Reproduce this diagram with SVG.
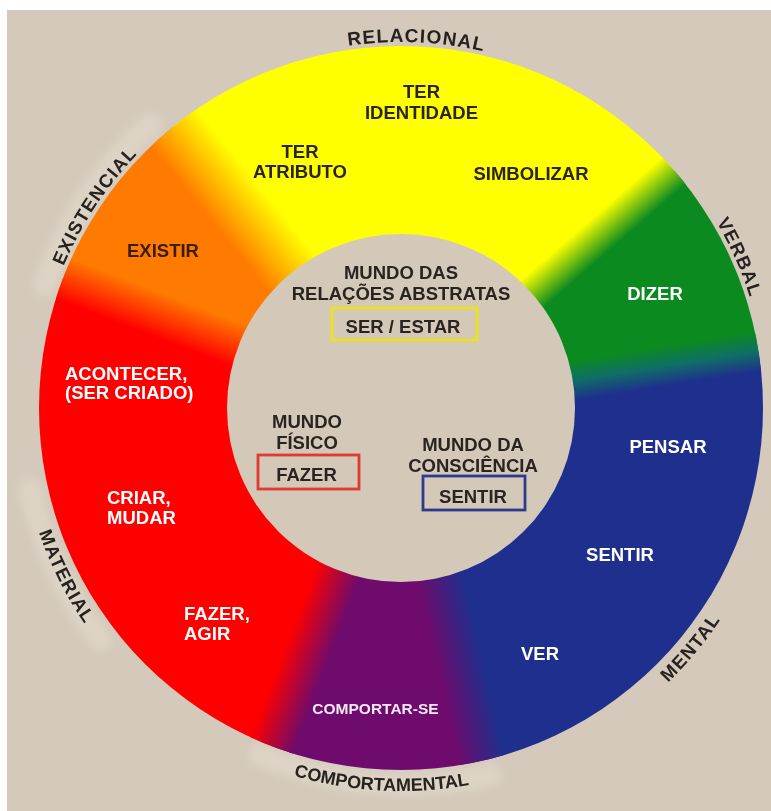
<svg xmlns="http://www.w3.org/2000/svg" width="771" height="811" viewBox="0 0 771 811">
  <style>
    text { font-family: "Liberation Sans", Arial, sans-serif; font-weight: bold; }
    .lbl { font-size: 18.5px; text-anchor: middle; }
    .lft { font-size: 18.5px; text-anchor: start; }
    .dark { fill: #2a2421; }
    .white { fill: #ffffff; }
    .ring-label { font-size: 18.5px; fill: #26221f; letter-spacing: 1.2px; }
    .box { fill: none; stroke-width: 2.8; }
    .patch { fill: none; stroke: #e2dacd; stroke-width: 24; stroke-linecap: round; opacity: 0.6; }
  </style>
  <defs>
    <clipPath id="outerDisc">
      <circle cx="401" cy="408" r="362"/>
    </clipPath>
    <filter id="haze" filterUnits="userSpaceOnUse" x="-60" y="-60" width="900" height="950">
      <feGaussianBlur stdDeviation="4"/>
    </filter>
    <!-- cross-fades between neighbouring sectors (top edge = earlier sector) -->
    <linearGradient id="fadeYG" x1="0" y1="0" x2="0" y2="1">
      <stop offset="0" stop-color="#ffff00"/><stop offset="1" stop-color="#0b8a20"/>
    </linearGradient>
    <linearGradient id="fadeGB" x1="0" y1="0" x2="0" y2="1">
      <stop offset="0" stop-color="#0b8a20"/><stop offset="0.5" stop-color="#0f6e66"/><stop offset="1" stop-color="#1f2f8d"/>
    </linearGradient>
    <linearGradient id="fadeBP" x1="0" y1="0" x2="0" y2="1">
      <stop offset="0" stop-color="#1f2f8d"/><stop offset="1" stop-color="#6e0b6c"/>
    </linearGradient>
    <linearGradient id="fadePR" x1="0" y1="0" x2="0" y2="1">
      <stop offset="0" stop-color="#6e0b6c"/><stop offset="1" stop-color="#ff0000"/>
    </linearGradient>
    <linearGradient id="fadeRO" x1="0" y1="0" x2="0" y2="1">
      <stop offset="0" stop-color="#ff0000"/><stop offset="1" stop-color="#ff7a00"/>
    </linearGradient>
    <linearGradient id="fadeOY" x1="0" y1="0" x2="0" y2="1">
      <stop offset="0" stop-color="#ff7a00"/><stop offset="1" stop-color="#ffff00"/>
    </linearGradient>
    <!-- baselines for the category names around the wheel -->
    <path id="arcRelacional" d="M177.7 118 A366 366 0 0 1 647.8 137.7"/>
    <path id="arcExistencial" d="M37.4 450.1 A366 366 0 0 1 296.4 57.3"/>
    <path id="arcVerbal" d="M561.5 79 A366 366 0 0 1 752.8 508.9"/>
    <path id="arcMental" d="M470.1 784.7 A383 383 0 0 0 784 405.3"/>
    <path id="arcMaterial" d="M28.3 319.9 A383 383 0 0 0 249.5 759.7"/>
    <path id="arcComportamental" d="M139.8 688.1 A383 383 0 0 0 631.5 713.9"/>
  </defs>

  <!-- paper -->
  <rect x="0" y="0" width="771" height="811" fill="#ffffff"/>
  <rect x="7" y="10" width="764" height="801" fill="#d4c9bb"/>

  <!-- lighter strips behind some category names -->
  <g id="label-patches" filter="url(#haze)">
    <path class="patch" d="M45 285 A378 378 0 0 1 150 125"/>
    <path class="patch" d="M30 490 A380 380 0 0 0 100 640"/>
    <path class="patch" d="M260 755 A380 380 0 0 0 490 775"/>
  </g>

  <!-- colour wheel -->
  <g id="wheel" clip-path="url(#outerDisc)">
    <path fill="#ffff00" d="M401 408 L124.1 66.1 A440 440 0 0 1 733.1 119.3 Z"/>
    <path fill="#0b8a20" d="M401 408 L733.1 119.3 A440 440 0 0 1 835.6 339.2 Z"/>
    <path fill="#1f2f8d" d="M401 408 L835.6 339.2 A440 440 0 0 1 500 836.7 Z"/>
    <path fill="#6e0b6c" d="M401 408 L500 836.7 A440 440 0 0 1 243.3 818.8 Z"/>
    <path fill="#ff0000" d="M401 408 L243.3 818.8 A440 440 0 0 1 -9.8 250.3 Z"/>
    <path fill="#ff7a00" d="M401 408 L-9.8 250.3 A440 440 0 0 1 124.1 66.1 Z"/>
    <!-- blended seams along each sector border -->
    <rect x="551" y="390" width="230" height="36" fill="url(#fadeYG)" transform="rotate(-41 401 408)"/>
    <rect x="551" y="388" width="230" height="40" fill="url(#fadeGB)" transform="rotate(-9 401 408)"/>
    <rect x="551" y="385" width="230" height="46" fill="url(#fadeBP)" transform="rotate(77 401 408)"/>
    <rect x="551" y="385" width="230" height="46" fill="url(#fadePR)" transform="rotate(111 401 408)"/>
    <rect x="551" y="386" width="230" height="44" fill="url(#fadeRO)" transform="rotate(201 401 408)"/>
    <rect x="551" y="378" width="230" height="60" fill="url(#fadeOY)" transform="rotate(231 401 408)"/>
  </g>
  <circle id="hub" cx="401" cy="408" r="174" fill="#d4c9b9"/>

  <!-- category names -->
  <g id="categories">
    <text class="ring-label" style="font-size:19px"><textPath href="#arcRelacional" startOffset="50%" text-anchor="middle">RELACIONAL</textPath></text>
    <text class="ring-label"><textPath href="#arcExistencial" startOffset="50%" text-anchor="middle">EXISTENCIAL</textPath></text>
    <text class="ring-label"><textPath href="#arcVerbal" startOffset="50%" text-anchor="middle">VERBAL</textPath></text>
    <text class="ring-label"><textPath href="#arcMental" startOffset="50%" text-anchor="middle">MENTAL</textPath></text>
    <text class="ring-label"><textPath href="#arcMaterial" startOffset="50%" text-anchor="middle">MATERIAL</textPath></text>
    <text class="ring-label" style="font-size:18px;letter-spacing:0"><textPath href="#arcComportamental" startOffset="50%" text-anchor="middle">COMPORTAMENTAL</textPath></text>
  </g>

  <!-- process labels on the ring -->
  <g id="ter-identidade" class="dark">
    <text class="lbl" x="421.5" y="98">TER</text>
    <text class="lbl" x="421.5" y="119">IDENTIDADE</text>
  </g>
  <g id="ter-atributo" class="dark">
    <text class="lbl" x="300" y="158">TER</text>
    <text class="lbl" x="300" y="178">ATRIBUTO</text>
  </g>
  <g id="simbolizar" class="dark">
    <text class="lbl" x="531" y="180">SIMBOLIZAR</text>
  </g>
  <g id="existir">
    <text class="lbl" x="163" y="257" fill="#3a1c0a">EXISTIR</text>
  </g>
  <g id="dizer" class="white">
    <text class="lbl" x="655" y="300">DIZER</text>
  </g>
  <g id="acontecer" class="white">
    <text class="lft" x="65" y="380">ACONTECER,</text>
    <text class="lft" x="65" y="399">(SER CRIADO)</text>
  </g>
  <g id="criar-mudar" class="white">
    <text class="lft" x="107" y="504">CRIAR,</text>
    <text class="lft" x="107" y="524">MUDAR</text>
  </g>
  <g id="fazer-agir" class="white">
    <text class="lft" x="184" y="620">FAZER,</text>
    <text class="lft" x="184" y="640">AGIR</text>
  </g>
  <g id="pensar" class="white">
    <text class="lbl" x="668" y="453">PENSAR</text>
  </g>
  <g id="sentir-mental" class="white">
    <text class="lbl" x="620" y="561">SENTIR</text>
  </g>
  <g id="ver" class="white">
    <text class="lbl" x="540" y="660">VER</text>
  </g>
  <g id="comportar-se">
    <text class="lbl" x="375.5" y="714" style="font-size:15.5px" fill="#f4e8f2">COMPORTAR-SE</text>
  </g>

  <!-- the three worlds in the hub -->
  <g id="mundo-abstrato" class="dark">
    <text class="lbl" x="401" y="279">MUNDO DAS</text>
    <text class="lbl" x="401" y="300">RELAÇÕES ABSTRATAS</text>
    <rect class="box" x="332" y="308" width="145" height="32" stroke="#ece21c"/>
    <text class="lbl" x="403" y="333">SER / ESTAR</text>
  </g>
  <g id="mundo-fisico" class="dark">
    <text class="lbl" x="307" y="428">MUNDO</text>
    <text class="lbl" x="307" y="449">FÍSICO</text>
    <rect class="box" x="258" y="455" width="101" height="34" stroke="#e0392e"/>
    <text class="lbl" x="306.5" y="481">FAZER</text>
  </g>
  <g id="mundo-consciencia" class="dark">
    <text class="lbl" x="473" y="451">MUNDO DA</text>
    <text class="lbl" x="473" y="472">CONSCIÊNCIA</text>
    <rect class="box" x="423" y="476" width="102" height="34" stroke="#2e3b8c"/>
    <text class="lbl" x="473" y="503">SENTIR</text>
  </g>
</svg>
